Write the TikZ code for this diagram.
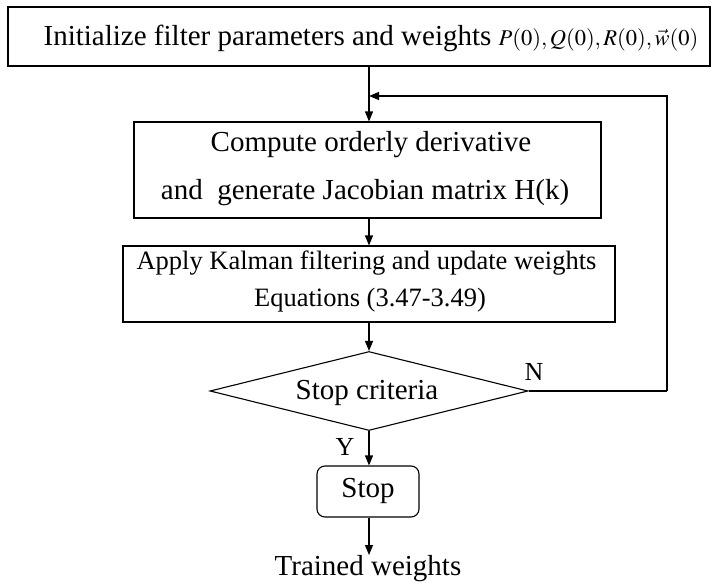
\documentclass[tikz,border=0pt]{standalone}
\usepackage{mathptmx}
\usepackage[no-math]{fontspec}
\setmainfont{Liberation Serif}
\usetikzlibrary{arrows.meta,shapes.geometric}
\begin{document}
\begin{tikzpicture}[x=1pt,y=-1pt,
  line width=1.1pt,
  flow/.style={-{Stealth[length=10pt,width=8pt,inset=0pt]}},
  box/.style={draw,rectangle,inner sep=0pt},
  lbl/.style={font=\fontsize{29}{32}\selectfont,inner sep=0pt},
  small/.style={font=\fontsize{26.5}{30}\selectfont,inner sep=0pt},
  yn/.style={font=\fontsize{26}{28}\selectfont,inner sep=0pt}]
\useasboundingbox (0,0) rectangle (714,586);

% initialisation box
\node[box,minimum width=702pt,minimum height=59pt] (init) at (359,36.5) {};
\node[lbl] (initT) at (371,38) {Initialize filter parameters and weights {\fontsize{22.5}{24}\selectfont$P(0),Q(0),R(0),\vec{w}(0)$}};

% derivative / Jacobian box
\node[box,minimum width=467pt,minimum height=96pt] (jac) at (367.5,170) {};
\node[lbl] (jac1) at (371,145) {Compute orderly derivative};
\node[lbl] (jac2) at (365,193) {and\ \ generate Jacobian matrix H(k)};

% Kalman update box
\node[box,minimum width=492pt,minimum height=76pt] (kal) at (369,284) {};
\node[small] (kal1) at (366.5,263) {Apply Kalman filtering and update weights};
\node[small] (kal2) at (370,300) {Equations (3.47-3.49)};

% decision
\node[draw,diamond,aspect=4,minimum width=318pt,minimum height=79pt,inner sep=0pt] (dec) at (369,391) {};
\node[lbl] (decT) at (367,393) {Stop criteria};

% stop terminal
\node[draw,rounded corners=8pt,minimum width=102pt,minimum height=51pt] (stop) at (368,491.5) {};
\node[lbl] (stopT) at (368,491) {Stop};

% output
\node[lbl,anchor=north] (out) at (368,555) {Trained weights};

% branch labels
\node[yn] (nlab) at (534,372) {N};
\node[yn] (ylab) at (345,447) {Y};

% connectors
\coordinate (join) at (369,96);
\coordinate (rtop) at (667,96);
\coordinate (rbot) at (667,391);
\draw[flow] (init.south -| dec.north) -- (jac.north -| dec.north);
\draw[flow] (rbot) -- (rtop) -- (join);
\draw (dec.east) -- (rbot);
\draw[flow] (jac.south -| dec.north) -- (kal.north -| dec.north);
\draw[flow] (kal.south -| dec.north) -- (dec.north);
\draw[flow] (dec.south) -- (stop.north -| dec.south);
\draw[flow] (stop.south -| dec.south) -- (out.north -| dec.south);
\end{tikzpicture}
\end{document}
